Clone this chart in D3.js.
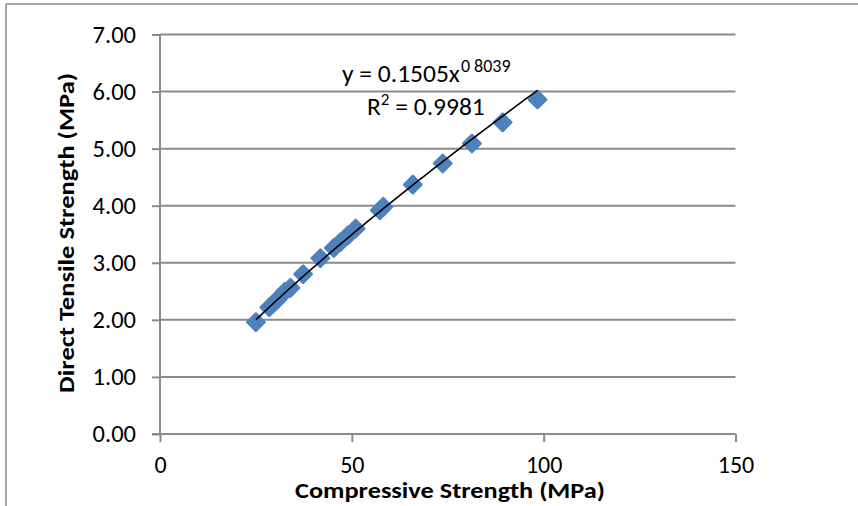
<!DOCTYPE html>
<html>
<head>
<meta charset="utf-8">
<script src="https://cdn.jsdelivr.net/npm/d3@7"></script>
<style>
  html, body { margin: 0; padding: 0; background: #fff; }
  svg { display: block; }
  text { font-family: Carlito, Lato, "Open Sans", sans-serif; fill: #000; }
</style>
</head>
<body>
<svg id="chart" width="858" height="506"></svg>
<script>
// Compressive strength (MPa) vs direct tensile strength (MPa)
const compressive = [25.0, 28.5, 30.5, 32.5, 34.0, 37.3, 41.8, 45.3, 47.0, 49.0, 51.0, 57.3, 58.2, 65.9, 73.7, 81.3, 89.3, 98.4];
const tensile     = [1.96, 2.22, 2.35, 2.49, 2.56, 2.80, 3.08, 3.26, 3.36, 3.48, 3.60, 3.92, 3.98, 4.37, 4.74, 5.09, 5.46, 5.86];

// Power trendline y = a·x^b
const trendA = 0.1505;
const trendB = 0.8039;
const equationLabel = "y = 0.1505x";
const exponentLabel = "0 8039";
const r2Label = "0.9981";

const xTicks = [0, 50, 100, 150];
const yTicks = [0, 1, 2, 3, 4, 5, 6, 7];

const svg = d3.select("#chart");
const gridColor = "#8a8a8a";

// Chart frame (left and top edges)
svg.append("line").attr("x1", 6).attr("x2", 6).attr("y1", 4).attr("y2", 506)
  .attr("stroke", "#a6a6a6").attr("stroke-width", 2);
svg.append("line").attr("x1", 6).attr("x2", 858).attr("y1", 4).attr("y2", 4)
  .attr("stroke", "#a6a6a6").attr("stroke-width", 2);

const x = d3.scaleLinear().domain([0, 150]).range([160, 735.5]);
const y = d3.scaleLinear().domain([0, 7]).range([434, 34.5]);

// Horizontal gridlines
svg.append("g").selectAll("line").data(yTicks.filter(d => d > 0)).join("line")
  .attr("x1", x(0)).attr("x2", x(150))
  .attr("y1", d => y(d)).attr("y2", d => y(d))
  .attr("stroke", gridColor).attr("stroke-width", 2);

// Y axis
const yAxis = d3.axisLeft(y).tickValues(yTicks).tickFormat(d3.format(".2f"))
  .tickSize(8).tickPadding(16);
const gy = svg.append("g").attr("transform", `translate(${x(0)},0)`).call(yAxis);
gy.select(".domain").attr("stroke", gridColor).attr("stroke-width", 2)
  .attr("d", `M0,${y(7)}V${y(0)}`);
gy.selectAll(".tick line").attr("stroke", gridColor).attr("stroke-width", 2);
gy.selectAll(".tick text").attr("font-size", 24.5).attr("fill", "#000")
  .attr("font-family", "Carlito, Lato, sans-serif");

// X axis
const xAxis = d3.axisBottom(x).tickValues(xTicks).tickFormat(d3.format("d"))
  .tickSize(8).tickPadding(14);
const gx = svg.append("g").attr("transform", `translate(0,${y(0)})`).call(xAxis);
gx.select(".domain").attr("stroke", gridColor).attr("stroke-width", 2)
  .attr("d", `M${x(0) - 8},0H${x(150)}`);
gx.selectAll(".tick line").attr("stroke", gridColor).attr("stroke-width", 2);
gx.selectAll(".tick text").attr("font-size", 24).attr("fill", "#000")
  .attr("font-family", "Carlito, Lato, sans-serif");

// Data markers (diamonds)
const points = compressive.map((c, i) => ({ x: c, y: tensile[i] }));
const diamond = d3.symbol().type(d3.symbolSquare).size(150)();
svg.append("g").selectAll("path").data(points).join("path")
  .attr("d", diamond)
  .attr("transform", d => `translate(${x(d.x)},${y(d.y)}) rotate(45)`)
  .attr("fill", "#4f81bd")
  .attr("stroke", "#4f81bd").attr("stroke-width", 2.5).attr("stroke-linejoin", "round");

// Power trendline across the data range
const xMin = d3.min(compressive), xMax = d3.max(compressive);
const trend = d3.range(0, 61).map(i => {
  const xv = xMin + (xMax - xMin) * i / 60;
  return [xv, trendA * Math.pow(xv, trendB)];
});
svg.append("path").datum(trend)
  .attr("d", d3.line().x(d => x(d[0])).y(d => y(d[1])))
  .attr("fill", "none").attr("stroke", "#000").attr("stroke-width", 1.6);

// Trendline equation and R²
const eq = svg.append("text").attr("x", 342).attr("y", 82).attr("font-size", 25.5);
eq.append("tspan").text(equationLabel);
eq.append("tspan").attr("font-size", 18).attr("dy", -10).attr("dx", 1).text(exponentLabel);
const r2 = svg.append("text").attr("x", 367).attr("y", 115).attr("font-size", 25.5);
r2.append("tspan").text("R");
r2.append("tspan").attr("font-size", 17).attr("dy", -10).text("2");
r2.append("tspan").attr("dy", 10).text(" = " + r2Label);

// Axis titles
svg.append("text").attr("x", 450).attr("y", 498).attr("text-anchor", "middle")
  .attr("font-size", 22).attr("font-weight", "bold")
  .attr("textLength", 310).attr("lengthAdjust", "spacingAndGlyphs")
  .text("Compressive Strength (MPa)");
svg.append("text").attr("transform", "translate(74,233) rotate(-90)")
  .attr("text-anchor", "middle").attr("font-size", 22).attr("font-weight", "bold")
  .attr("textLength", 320).attr("lengthAdjust", "spacingAndGlyphs")
  .text("Direct Tensile Strength (MPa)");
</script>
</body>
</html>
